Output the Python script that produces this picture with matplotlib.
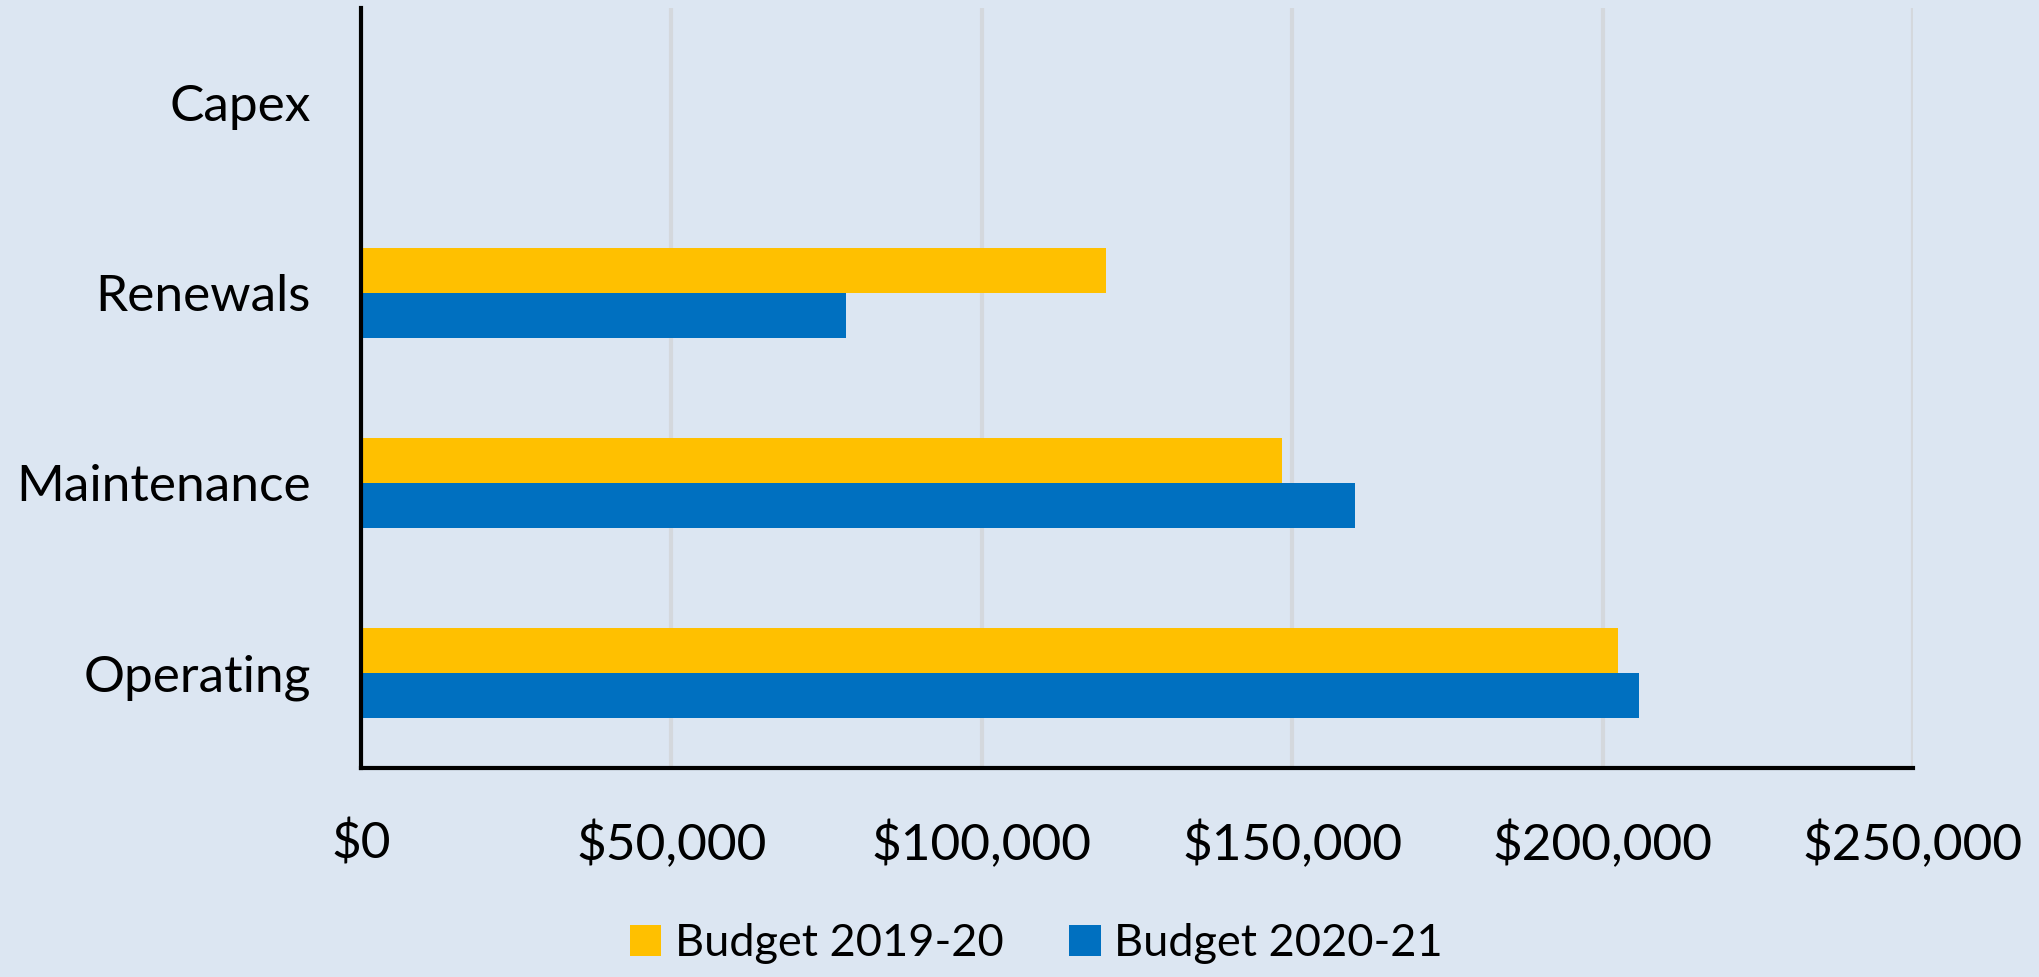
import matplotlib
matplotlib.use("Agg")
import matplotlib.pyplot as plt
import numpy as np
from matplotlib.ticker import FuncFormatter

categories = ["Operating", "Maintenance", "Renewals", "Capex"]
budget_2019 = [202500, 148400, 120000, 0]
budget_2020 = [205800, 160100, 78200, 0]
series_names = ["Budget 2019-20", "Budget 2020-21"]
xticks = [0, 50000, 100000, 150000, 200000, 250000]

bg = "#DCE6F2"
plt.rcParams["font.family"] = ["Lato", "DejaVu Sans"]

fig = plt.figure(figsize=(20.4, 9.77), dpi=100, facecolor=bg)
ax = fig.add_axes([0.177, 0.214, 0.7607, 0.778], facecolor=bg)

y = np.arange(len(categories))
h = 0.235
ax.barh(y + h / 2, budget_2019, height=h, color="#FFC000", label=series_names[0], zorder=3)
ax.barh(y - h / 2, budget_2020, height=h, color="#0070C0", label=series_names[1], zorder=3)

ax.set_ylim(-0.5, len(categories) - 0.5)
ax.set_xlim(0, 250000)
ax.set_xticks(xticks)
ax.xaxis.set_major_formatter(FuncFormatter(lambda v, p: "${:,.0f}".format(v)))
ax.set_yticks(y)
ax.set_yticklabels(categories)
ax.tick_params(axis="both", length=0, labelsize=37)
ax.tick_params(axis="x", pad=38)
ax.tick_params(axis="y", pad=36)
ax.grid(axis="x", color="#D4D8DD", linewidth=3, zorder=0)

for s in ["top", "right"]:
    ax.spines[s].set_visible(False)
for s in ["left", "bottom"]:
    ax.spines[s].set_linewidth(3)
    ax.spines[s].set_color("black")
    ax.spines[s].set_zorder(4)

leg = fig.legend(loc="center", bbox_to_anchor=(0.508, 0.034), ncol=2, frameon=False,
                 fontsize=32.5, handlelength=0.7, handleheight=0.7, handletextpad=0.3,
                 columnspacing=1.45)

fig.savefig("out.png", dpi=100, facecolor=bg)
